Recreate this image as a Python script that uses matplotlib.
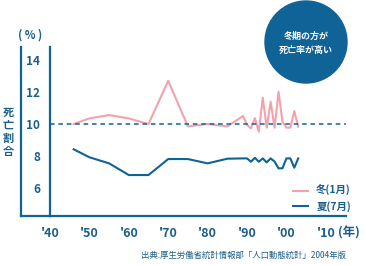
import matplotlib
matplotlib.use('Agg')
from matplotlib import pyplot as plt
from matplotlib.lines import Line2D
from matplotlib.patches import Circle
from matplotlib.transforms import IdentityTransform

plt.rcParams['font.family'] = ['Noto Sans CJK JP', 'DejaVu Sans']

# winter (January) death share, %
winter_years = [1946, 1950, 1955, 1960, 1965, 1970, 1975, 1980, 1985, 1989,
                1990, 1991, 1992, 1993, 1994, 1995, 1996, 1997, 1998, 1999,
                2000, 2001, 2002, 2003]
winter_vals = [10.0, 10.35, 10.56, 10.35, 10.0, 12.7, 9.85, 10.0, 9.85, 10.5,
               9.94, 9.73, 10.36, 9.52, 11.64, 9.77, 11.39, 9.77, 12.02, 10.14,
               9.77, 9.77, 10.81, 9.83]

# summer (July) death share, %
summer_years = [1946, 1950, 1955, 1960, 1965, 1970, 1975, 1980, 1985, 1989,
                1990, 1991, 1992, 1993, 1994, 1995, 1996, 1997, 1998, 1999,
                2000, 2001, 2002, 2003]
summer_vals = [8.42, 7.92, 7.54, 6.81, 6.81, 7.81, 7.81, 7.54, 7.83, 7.85,
               7.85, 7.64, 7.89, 7.64, 7.85, 7.6, 7.85, 7.65, 7.23, 7.23,
               7.85, 7.85, 7.27, 7.85]

yticks = [6, 8, 10, 12, 14]
xticks = [1940, 1950, 1960, 1970, 1980, 1990, 2000, 2010]
xtick_labels = ["'40", "'50", "'60", "'70", "'80", "'90", "'00", "'10"]

navy = '#0f6396'
text_c = '#1b5e8a'
pink = '#f3a2ad'

W, H = 365, 265
fig = plt.figure(figsize=(W / 100, H / 100), dpi=100)

# axes box in pixel terms: x 50..346, y 47..216
ax = fig.add_axes([50 / W, 1 - 216 / H, 296 / W, (216 - 47) / H])
ax.set_xlim(1940, 1940 + 296 / 3.94)
ax.set_ylim(10 - (216 - 124) / 16, 10 + (124 - 47) / 16)

ax.plot(winter_years, winter_vals, color=pink, lw=1.5, label='冬(1月)')
ax.plot(summer_years, summer_vals, color=navy, lw=1.5, label='夏(7月)')
ax.axhline(10, color=navy, lw=1.1, ls=(0, (3, 2.5)))

for s in ['top', 'right']:
    ax.spines[s].set_visible(False)
for s in ['left', 'bottom']:
    ax.spines[s].set_color(navy)
    ax.spines[s].set_linewidth(1.6)

# outer frame line and bottom extension
x0 = (21 - 50) / 296
ax.add_line(Line2D([x0, x0], [0, 1], transform=ax.transAxes, color=navy,
                   lw=1.6, clip_on=False))
ax.add_line(Line2D([x0, 0], [0, 0], transform=ax.transAxes, color=navy,
                   lw=1.6, clip_on=False))

ax.set_yticks(yticks)
ax.set_yticklabels([str(v) for v in yticks])
ax.set_xticks(xticks)
ax.set_xticklabels(xtick_labels)
ax.tick_params(axis='y', length=0, pad=7, labelsize=8.5, labelcolor=text_c)
ax.tick_params(axis='x', length=0, pad=8, labelsize=9, labelcolor=text_c)
for t in ax.get_xticklabels() + ax.get_yticklabels():
    t.set_fontweight('bold')

fig.text(30 / W, 1 - 35 / H, '( % )', ha='center', va='center', fontsize=8,
         color=text_c, fontweight='bold')
fig.text(349 / W, 1 - 233 / H, '(年)', ha='center', va='center', fontsize=9,
         color=text_c, fontweight='bold')
fig.text(8 / W, 1 - 132 / H, '\n'.join('死亡割合'), ha='center', va='center',
         fontsize=8, color=text_c, fontweight='bold', linespacing=1.0)
fig.text(346 / W, 1 - 255 / H, '出典:厚生労働省統計情報部「人口動態統計」2004年版',
         ha='right', va='center', fontsize=6, color=text_c)

ax.legend(loc='upper left', bbox_to_anchor=(284 / W, 1 - 176 / H),
          bbox_transform=fig.transFigure, frameon=False,
          handlelength=1.4, handletextpad=0.8, labelspacing=0.45,
          labelcolor=text_c, prop={'weight': 'bold', 'size': 7.5})

# callout circle
fig.patches.append(Circle((306, H - 42), 41, color=navy,
                          transform=IdentityTransform()))
fig.text(306 / W, 1 - 36 / H, '冬期の方が', ha='center', va='center',
         fontsize=6.5, color='white', fontweight='bold')
fig.text(306 / W, 1 - 50 / H, '死亡率が高い', ha='center', va='center',
         fontsize=6.5, color='white', fontweight='bold')

fig.savefig('out.png', dpi=100)
